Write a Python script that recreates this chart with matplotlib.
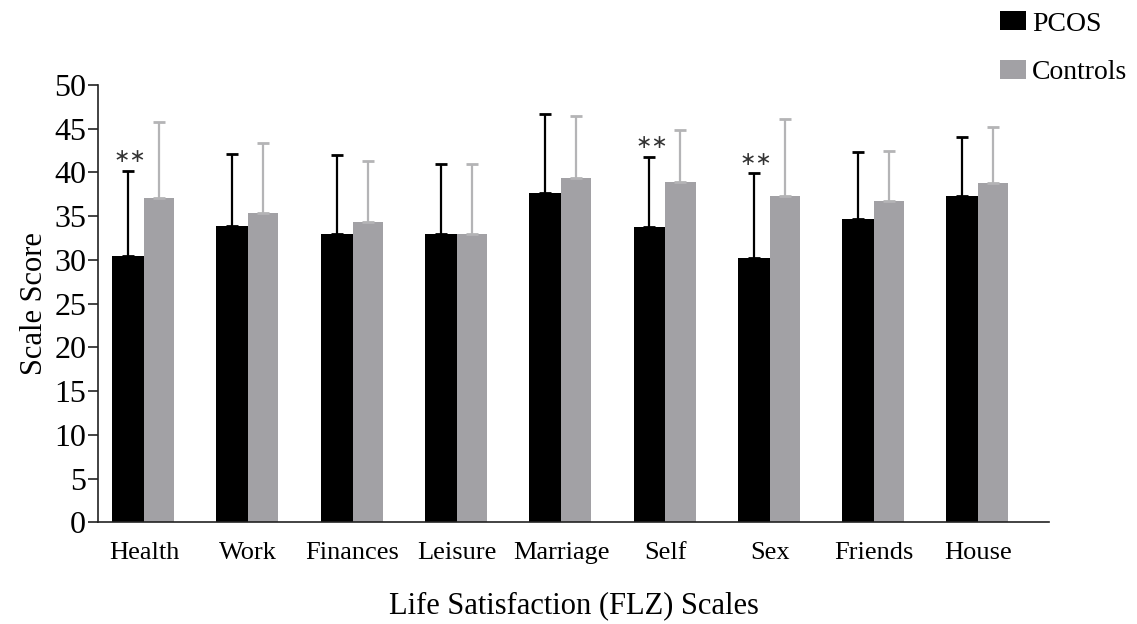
import matplotlib
matplotlib.use("Agg")
import matplotlib.pyplot as plt
import numpy as np

# Life satisfaction (FLZ) scale scores: means and standard deviations
scales = ["Health", "Work", "Finances", "Leisure", "Marriage",
          "Self", "Sex", "Friends", "House"]
pcos_mean = [30.5, 33.9, 33.0, 33.0, 37.7, 33.8, 30.2, 34.7, 37.3]
pcos_sd = [9.7, 8.25, 9.0, 8.0, 9.0, 8.0, 9.7, 7.6, 6.7]
ctrl_mean = [37.05, 35.4, 34.3, 33.0, 39.4, 38.9, 37.3, 36.7, 38.8]
ctrl_sd = [8.75, 8.0, 7.0, 8.0, 7.0, 6.0, 8.8, 5.7, 6.4]
significant = ["**", "", "", "", "", "**", "**", "", ""]
y_ticks = [0, 5, 10, 15, 20, 25, 30, 35, 40, 45, 50]

plt.rcParams["font.family"] = ["Liberation Serif", "DejaVu Serif"]

fig = plt.figure(figsize=(11.37, 6.24), dpi=100)
ax = fig.add_axes([0.0862, 0.1627, 0.8364, 0.7011])

x = np.arange(len(scales))
w_p = 0.305
w_c = 0.29
black = "#000000"
grey = "#a2a1a5"

ax.bar(x - w_p / 2, pcos_mean, width=w_p, color=black, label="PCOS",
       zorder=2)
ax.bar(x + w_c / 2, ctrl_mean, width=w_c, color=grey, label="Controls",
       zorder=2)

ax.errorbar(x - w_p / 2, pcos_mean, yerr=[np.zeros(len(x)), pcos_sd],
            fmt="none", ecolor=black, elinewidth=1.6, capsize=4.0,
            capthick=2.0, zorder=3)
ax.errorbar(x + w_c / 2, ctrl_mean, yerr=[np.zeros(len(x)), ctrl_sd],
            fmt="none", ecolor="#b4b4b6", elinewidth=1.6, capsize=4.6,
            capthick=2.0, zorder=3)

# significance markers above the PCOS whiskers
for xi, m, s, mark in zip(x, pcos_mean, pcos_sd, significant):
    if mark:
        ax.text(xi - w_p / 2 + 0.02, m + s + 0.55, "\u2217\u2217",
                ha="center", va="bottom", fontsize=14,
                family=["DejaVu Sans"], color="#333333")

ax.set_xlim(-0.441, 8.68)
ax.set_ylim(0, 50)
ax.set_yticks(y_ticks)
ax.set_xticks(x)
ax.set_xticklabels(scales, fontsize=19)
ax.tick_params(axis="x", length=0, pad=14)
ax.tick_params(axis="y", direction="out", length=7.5, width=1.2,
               labelsize=23, pad=1, color="#222222")

for side in ("top", "right"):
    ax.spines[side].set_visible(False)
for side in ("left", "bottom"):
    ax.spines[side].set_linewidth(1.2)
    ax.spines[side].set_color("#222222")

ax.set_ylabel("Scale Score", fontsize=22, labelpad=4)
ax.set_xlabel("Life Satisfaction (FLZ) Scales", fontsize=22, labelpad=20)

fig.legend(loc="upper left", bbox_to_anchor=(0.8795, 0.982),
           frameon=False, fontsize=20, handlelength=0.94,
           handleheight=0.68, handletextpad=0.22, labelspacing=0.83,
           borderpad=0, borderaxespad=0)

fig.savefig("out.png", dpi=100)
